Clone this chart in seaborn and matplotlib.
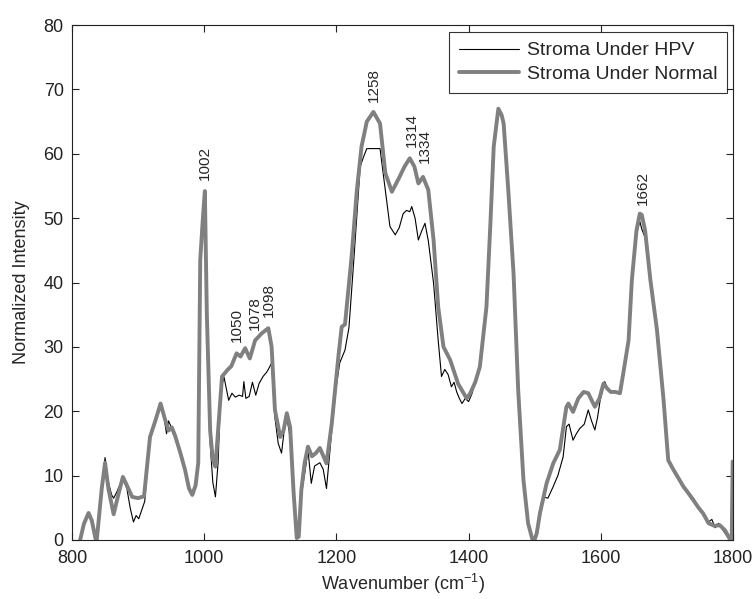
import numpy as np
import pandas as pd
import seaborn as sns
import matplotlib
matplotlib.use("Agg")
import matplotlib.pyplot as plt

# --- data (wavenumber, normalized intensity) ---
normal_x = [810, 818, 825, 830, 837, 845, 850, 855, 863, 870, 877, 883, 891, 900, 909,
            918, 926, 934, 940, 946, 951, 956, 964, 971, 977, 982, 987, 991, 994, 998,
            1001, 1004, 1009, 1013, 1017, 1021, 1027, 1035, 1041, 1049, 1055, 1062, 1069,
            1077, 1087, 1097, 1102, 1107, 1115, 1120, 1125, 1130, 1135, 1140, 1143, 1147,
            1152, 1157, 1163, 1169, 1175, 1185, 1193, 1203, 1208, 1213, 1223, 1231, 1238,
            1246, 1256, 1266, 1274, 1284, 1296, 1303, 1311, 1318, 1324, 1331, 1339, 1347,
            1354, 1362, 1372, 1384, 1397, 1402, 1410, 1417, 1427, 1433, 1438, 1445, 1450,
            1453, 1460, 1468, 1475, 1483, 1490, 1498, 1503, 1508, 1518, 1528, 1538, 1548,
            1551, 1558, 1566, 1574, 1581, 1591, 1598, 1604, 1610, 1615, 1622, 1629, 1634,
            1642, 1647, 1654, 1659, 1662, 1667, 1675, 1685, 1695, 1702, 1710, 1718, 1725,
            1733, 1740, 1748, 1755, 1763, 1772, 1780, 1788, 1796, 1798, 1799.5]
normal_y = [-1, 2.5, 4.2, 3, -0.5, 8, 12, 8, 4.0, 7, 9.8, 8.5, 6.7, 6.5, 6.8,
            16, 18.5, 21.2, 19, 17, 17.5, 16.2, 13.5, 10.9, 8, 7.0, 8.5, 12, 43.5, 50,
            54.2, 35, 17, 12.5, 11.4, 17, 25.4, 26.4, 27, 29, 28.5, 29.8, 28.2,
            31, 32.1, 32.9, 30, 20.2, 16, 17, 19.7, 17.5, 7.8, 0.3, 0.5, 7.8,
            12, 14.5, 13, 13.5, 14.3, 11.9, 18.1, 28.5, 33.1, 33.5, 44, 54.4, 61.1,
            65, 66.5, 64.7, 57, 54.1, 56.5, 58, 59.3, 58, 55.4, 56.4, 54.4, 46.6,
            36.2, 30, 28, 24.3, 22, 22.7, 24.5, 26.9, 36.2, 49.2, 61.1, 67, 66,
            64.7, 54.4, 41.4, 23.3, 9.3, 2.6, -0.5, 1, 4.2, 8.8, 11.9, 14, 20.7,
            21.2, 19.9, 22, 23.0, 22.8, 20.7, 22, 24.3, 23.5, 23, 23, 22.8, 25.9,
            31, 40.4, 48.1, 50.7, 50.5, 48.1, 40.4, 32.6, 21.7, 12.4, 10.9, 9.5, 8.3,
            7.2, 6.2, 5, 4.1, 2.6, 2.2, 2.3, 1.5, 0, -0.5, 12.2]

hpv_x = [810, 818, 825, 830, 837, 845, 850, 855, 860, 863, 868, 872, 877, 883, 888,
         893, 897, 901, 905, 910, 918, 926, 934, 940, 943, 946, 949, 953, 957, 964,
         971, 977, 982, 987, 991, 994, 998, 1001, 1004, 1009, 1013, 1017, 1021, 1025,
         1030, 1037, 1042, 1047, 1053, 1058, 1060, 1063, 1068, 1073, 1078, 1083, 1089,
         1094, 1097, 1102, 1107, 1112, 1117, 1121, 1125, 1130, 1135, 1140, 1147, 1153,
         1157, 1162, 1167, 1175, 1180, 1185, 1193, 1200, 1205, 1213, 1219, 1226, 1236,
         1241, 1246, 1266, 1274, 1281, 1289, 1295, 1301, 1306, 1311, 1314, 1319, 1324,
         1329, 1334, 1339, 1347, 1354, 1359, 1364, 1369, 1374, 1378, 1382, 1386, 1390,
         1395, 1400, 1405, 1410, 1417, 1427, 1433, 1438, 1445, 1450, 1453, 1460, 1468,
         1475, 1483, 1490, 1498, 1503, 1508, 1513, 1520, 1528, 1535, 1543, 1548, 1552,
         1558, 1563, 1568, 1575, 1581, 1586, 1591, 1595, 1599, 1606, 1610, 1615, 1622,
         1629, 1634, 1642, 1647, 1654, 1659, 1662, 1667, 1675, 1685, 1695, 1702, 1710,
         1718, 1725, 1730, 1740, 1748, 1755, 1763, 1768, 1773, 1778, 1785, 1793, 1797,
         1799.5]
hpv_y = [-1, 2.5, 4.0, 3, -0.5, 8, 12.8, 9, 7, 6.5, 7.5, 8.5, 9.5, 8, 5,
         2.8, 3.8, 3.3, 4.5, 6.0, 16, 18.5, 21.0, 18.5, 16.5, 18.5, 17.8, 16.5, 16, 13.5,
         11, 8, 7.0, 8.5, 12, 43.5, 50, 53.5, 35, 15, 9, 6.7, 12, 23.3,
         25.3, 21.7, 22.8, 22.2, 22.5, 22.3, 24.6, 22, 22.3, 24.5, 22.5, 24.3, 25.4,
         26, 26.5, 27.5, 19, 15, 13.5, 17, 19, 16, 7, 0.3, 7, 11,
         14, 8.8, 11.5, 12, 11, 8.0, 17, 24, 27.5, 29.5, 33, 43, 58,
         59.5, 60.8, 60.8, 54.4, 48.7, 47.4, 48.5, 50.7, 51.2, 51, 51.8, 50, 46.6,
         48, 49.2, 46.5, 39.9, 31, 25.4, 26.5, 25.7, 23.8, 24.5, 23, 22, 21.2,
         22, 21.5, 22.7, 24.5, 26.9, 36.2, 49.2, 61.1, 66.5, 66, 64.7, 54.4, 41.4,
         23.3, 9.3, 2.6, -0.5, 1, 3.5, 6.7, 6.5, 8.3, 10, 12.9, 17.6, 18,
         15.5, 16.5, 17.3, 18, 20.2, 18.5, 17.1, 19, 21.7, 24.6, 23.5, 23, 23,
         22.8, 25.9, 31, 40.4, 47.5, 49.5, 48.3, 47, 40, 32.6, 21.7, 12.4, 10.9,
         9.5, 8, 7.8, 6.5, 5, 4, 2.8, 3.2, 1.9, 2.6, 1.5, 0.3, -0.5,
         12.2]

peak_labels = ["1002", "1050", "1078", "1098", "1258", "1314", "1334", "1662"]
peak_x = [1001, 1050, 1077, 1098, 1257, 1314, 1334, 1664]
peak_text_y = [55.9, 30.8, 32.6, 34.7, 68.1, 61.0, 58.5, 52.0]

sns.set_style("ticks")
plt.rcParams["font.family"] = ["Liberation Sans", "DejaVu Sans"]
plt.rcParams["mathtext.default"] = "regular"

df = pd.concat([
    pd.DataFrame({"wn": hpv_x, "val": hpv_y, "series": "Stroma Under HPV"}),
    pd.DataFrame({"wn": normal_x, "val": normal_y, "series": "Stroma Under Normal"}),
])

fig = plt.figure(figsize=(7.53, 5.99), dpi=100)
ax = fig.add_axes([72 / 753, 1 - 540 / 599, 661 / 753, 515 / 599])

sns.lineplot(data=df, x="wn", y="val", hue="series", size="series",
             palette={"Stroma Under HPV": "black", "Stroma Under Normal": "#808080"},
             sizes={"Stroma Under HPV": 0.8, "Stroma Under Normal": 2.8},
             sort=False, estimator=None, ax=ax)

for lab, xx, yy in zip(peak_labels, peak_x, peak_text_y):
    ax.text(xx, yy, lab, rotation=90, ha="center", va="bottom", fontsize=11)

ax.set_xlim(800, 1800)
ax.set_ylim(0, 80)
ax.set_xticks(np.arange(800, 1801, 200))
ax.set_yticks(np.arange(0, 81, 10))
ax.tick_params(direction="in", length=5, width=0.8, top=True, right=True,
               labelsize=13, colors="#222222")
ax.tick_params(axis="x", pad=7)
ax.tick_params(axis="y", pad=6)
for s in ax.spines.values():
    s.set_visible(True)
    s.set_linewidth(0.8)
    s.set_color("#222222")

ax.set_xlabel("Wavenumber (cm$^{-1}$)", fontsize=13, labelpad=4)
ax.set_ylabel("Normalized Intensity", fontsize=13, labelpad=10)

leg = ax.legend(loc="upper right", bbox_to_anchor=(1 - 6 / 661, 1 - 7 / 515),
                fontsize=14, frameon=True, fancybox=False, handlelength=3.1,
                borderpad=0.5, labelspacing=0.3, handletextpad=0.4,
                borderaxespad=0)
leg.get_frame().set_edgecolor("black")
leg.get_frame().set_linewidth(0.8)

fig.savefig("out.png", dpi=100)
